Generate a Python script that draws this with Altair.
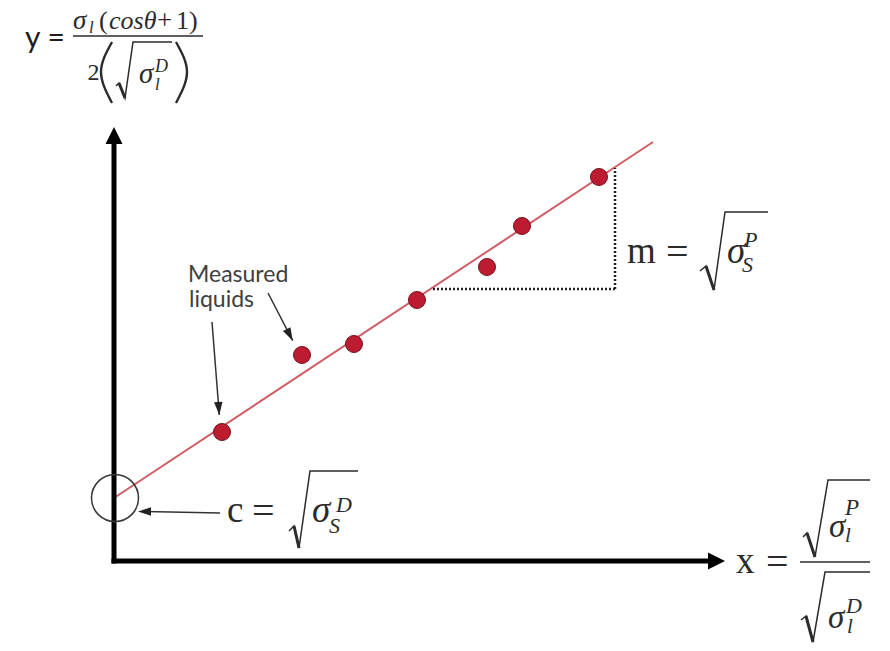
import altair as alt
import pandas as pd

# ---- data (arbitrary units, origin at the axes corner) ----
liquid_x = [10.8, 18.8, 24.0, 30.3, 37.3, 40.8, 48.5]
liquid_y = [12.9, 20.6, 21.7, 26.1, 29.4, 33.5, 38.4]
fit_x = [0.0, 53.9]
fit_y = [6.3, 41.9]

# ---- annotation layout (same units) ----
X = alt.Scale(domain=[-10.6, 76.8], nice=False, zero=False)
Y = alt.Scale(domain=[-8.2, 55.3], nice=False, zero=False)

def enc(**extra):
    d = dict(x=alt.X("x:Q", scale=X, axis=None), y=alt.Y("y:Q", scale=Y, axis=None))
    d.update(extra)
    return d

axis_rules = pd.DataFrame({"x": [0, 0], "y": [0, 0], "x2": [0, 60], "y2": [42.5, 0]})
axis_heads = pd.DataFrame({"x": [0, 61.1], "y": [43.4, 0], "a": [0, 90]})

ann_rules = pd.DataFrame({"x": [10.6, 9.8, 15.4], "y": [4.8, 23.9, 26.8],
                          "x2": [3.1, 10.53, 17.87], "y2": [4.95, 14.6, 22.03]})
ann_heads = pd.DataFrame({"x": [2.4, 10.53, 17.87], "y": [4.95, 14.6, 22.03],
                          "a": [270, 175.5, 152.6]})

dotted = pd.DataFrame({"x": [31.9, 50.1], "y": [27.2, 27.2], "x2": [50.1, 50.1], "y2": [27.2, 39.3]})
frac_bars = pd.DataFrame({"x": [-4.1, 68.6], "y": [52.5, -0.1], "x2": [8.9, 75.6], "y2": [52.5, -0.1]})
intercept_ring = pd.DataFrame({"x": [0.1], "y": [6.3]})

radicals = {
    "ry": [(0.2, 47.5), (0.5, 47.8), (1.1, 46.3), (1.9, 51.9), (5.8, 51.9)],
    "rc": [(17.5, 3.0), (18.0, 3.5), (18.5, 1.3), (19.6, 9.0), (24.4, 9.0)],
    "rm": [(58.6, 29.0), (59.2, 29.5), (60.0, 27.1), (61.1, 34.9), (65.4, 34.9)],
    "rxn": [(68.9, 2.4), (69.3, 2.8), (70.1, 0.4), (71.4, 8.1), (75.6, 8.1)],
    "rxd": [(68.7, -5.9), (69.2, -5.5), (69.9, -8.1), (71.1, -1.1), (75.6, -1.1)],
}
rad_rows = []
thick_rows = []
for k, pts in radicals.items():
    for i, (px, py) in enumerate(pts):
        rad_rows.append({"id": k, "o": i, "x": px, "y": py})
    thick_rows.append({"x": pts[1][0], "y": pts[1][1], "x2": pts[2][0], "y2": pts[2][1]})
rad_df = pd.DataFrame(rad_rows)
thick_df = pd.DataFrame(thick_rows)

parens = {
    "pl": [(-0.2, 51.9), (-1.3, 48.9), (-0.2, 45.8)],
    "pr": [(6.2, 51.9), (7.3, 48.9), (6.2, 45.8)],
}
paren_df = pd.DataFrame([{"id": k, "o": i, "x": px, "y": py}
                         for k, pts in parens.items() for i, (px, py) in enumerate(pts)])

sans_text = pd.DataFrame({
    "t": ["y =", "Measured", "liquids"],
    "x": [-8.9, 7.4, 7.5], "y": [51.3, 27.9, 25.4], "s": [30, 23, 23],
    "c": ["#1e1e1e", "#404040", "#404040"]})

upright_text = pd.DataFrame({
    "t": ["(", "+", "1)", "2", "c", "=", "m", "=", "x", "="],
    "x": [-1.5, 4.3, 6.2, -2.65, 11.3, 13.8, 51.3, 55.2, 62.2, 65.2],
    "y": [53.2, 53.2, 53.2, 48.1, 3.9, 3.7, 29.8, 29.6, -1.2, -1.4],
    "s": [26, 27, 26, 24, 37, 40, 37, 40, 37, 40]})

italic_text = pd.DataFrame({
    "t": ["σ", "l", "cosθ", "σ", "D", "l", "σ", "S", "D", "σ", "S", "P",
          "σ", "P", "l", "σ", "D", "l"],
    "x": [-4.1, -2.5, -0.5, 2.5, 4.1, 4.1, 19.8, 21.5, 22.2, 61.3, 62.8, 63.0,
          71.5, 73.1, 73.1, 71.4, 73.2, 73.3],
    "y": [53.2, 52.8, 53.2, 47.8, 48.9, 47.1, 3.9, 2.8, 4.9, 29.8, 28.9, 31.4,
          2.4, 4.6, 1.9, -6.7, -5.2, -7.2],
    "s": [27, 17, 26, 29, 18, 17, 37, 22, 22, 37, 22, 22, 33, 23, 21, 33, 22, 21]})

liquids = pd.DataFrame({"x": liquid_x, "y": liquid_y})
fit = pd.DataFrame({"x": fit_x, "y": fit_y})

INK = "#2b2b2b"
ARROW_UP = "M0,0L-1,2L1,2Z"
ARROW_SMALL = "M0,0L-0.65,2L0.65,2Z"

layers = [
    alt.Chart(fit).mark_line(color="#cf5f67", strokeWidth=2).encode(**enc()),
    alt.Chart(liquids).mark_circle(size=289, color="#bc1b30", stroke="#76111e",
                                   strokeWidth=1, opacity=1).encode(**enc()),
    alt.Chart(axis_rules).mark_rule(color="black", strokeWidth=5, strokeCap="square").encode(
        **enc(x2="x2:Q", y2="y2:Q")),
    alt.Chart(axis_heads).mark_point(shape=ARROW_UP, filled=True, size=289, color="black",
                                     opacity=1, strokeWidth=0).encode(
        **enc(angle=alt.Angle("a:Q", scale=None))),
    alt.Chart(ann_rules).mark_rule(color="#333333", strokeWidth=1.5).encode(
        **enc(x2="x2:Q", y2="y2:Q")),
    alt.Chart(ann_heads).mark_point(shape=ARROW_SMALL, filled=True, size=169, color="#222222",
                                    opacity=1, strokeWidth=0).encode(
        **enc(angle=alt.Angle("a:Q", scale=None))),
    alt.Chart(dotted).mark_rule(color="#222222", strokeWidth=2.5, strokeDash=[2, 2]).encode(
        **enc(x2="x2:Q", y2="y2:Q")),
    alt.Chart(intercept_ring).mark_point(shape="circle", filled=False, size=2209,
                                         color="#3a3a3a", strokeWidth=1.6, opacity=1).encode(**enc()),
    alt.Chart(frac_bars).mark_rule(color=INK, strokeWidth=1.6).encode(
        **enc(x2="x2:Q", y2="y2:Q")),
    alt.Chart(rad_df).mark_line(color=INK, strokeWidth=1.5).encode(
        **enc(detail="id:N", order="o:Q")),
    alt.Chart(thick_df).mark_rule(color=INK, strokeWidth=3).encode(
        **enc(x2="x2:Q", y2="y2:Q")),
    alt.Chart(paren_df).mark_line(color=INK, strokeWidth=2.4, interpolate="natural").encode(
        **enc(detail="id:N", order="o:Q")),
    alt.Chart(sans_text).mark_text(font="Lato", align="left", baseline="alphabetic").encode(
        **enc(text="t:N", size=alt.Size("s:Q", scale=None), color=alt.Color("c:N", scale=None))),
    alt.Chart(upright_text).mark_text(font="Liberation Serif", align="left",
                                      baseline="alphabetic", color=INK).encode(
        **enc(text="t:N", size=alt.Size("s:Q", scale=None))),
    alt.Chart(italic_text).mark_text(font="Liberation Serif", fontStyle="italic", align="left",
                                     baseline="alphabetic", color=INK).encode(
        **enc(text="t:N", size=alt.Size("s:Q", scale=None))),
]

chart = alt.layer(*layers).properties(
    width=874, height=635, padding=0,
    autosize=alt.AutoSizeParams(type="none"),
    background="white",
).configure_view(stroke=None)

chart.save("out.html", embed_options={"renderer": "svg", "actions": False})
